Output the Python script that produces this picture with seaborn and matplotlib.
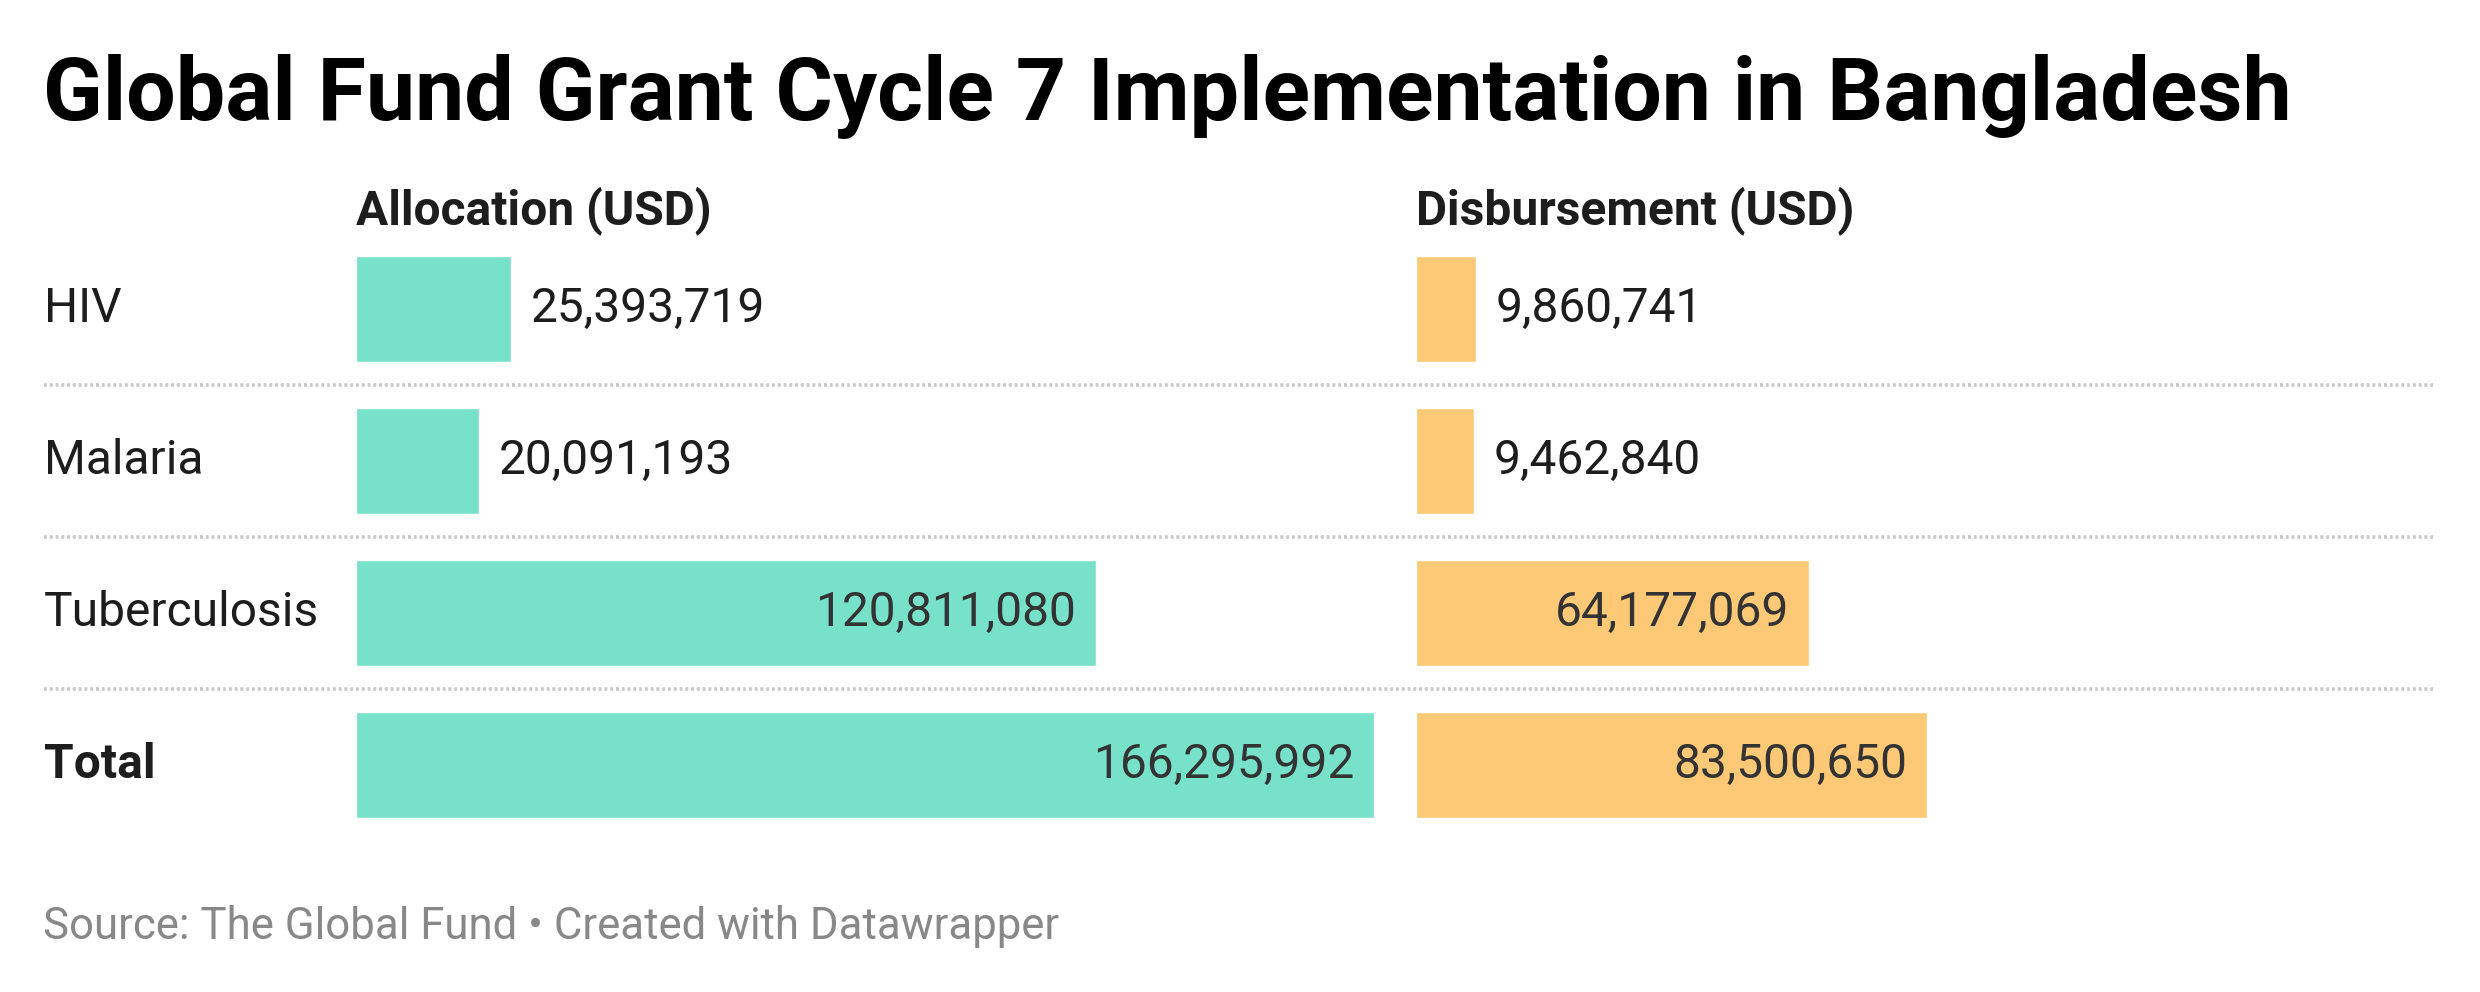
import matplotlib
matplotlib.use("Agg")
import matplotlib.pyplot as plt
import matplotlib.transforms as mtransforms
from matplotlib.lines import Line2D
import seaborn as sns
import pandas as pd

# ---- data ----
categories = ["HIV", "Malaria", "Tuberculosis", "Total"]
allocation = [25393719, 20091193, 120811080, 166295992]
disbursement = [9860741, 9462840, 64177069, 83500650]
panel_titles = ["Allocation (USD)", "Disbursement (USD)"]
title = "Global Fund Grant Cycle 7 Implementation in Bangladesh"
source = "Source: The Global Fund \u2022 Created with Datawrapper"

TEAL = "#77E1CA"
ORANGE = "#FEC976"

sns.set_theme(style="white")
plt.rcParams["font.family"] = ["Roboto", "DejaVu Sans"]

W, H = 2480, 992
fig = plt.figure(figsize=(W / 100, H / 100), dpi=100)
fig.patch.set_facecolor("white")

def fx(px):
    return px / W

def fy(py):
    return 1 - py / H

FS = 34.5
ax_top, ax_bot = 233, 841
panels = [(356, 1374), (1416, 2434)]
series = [allocation, disbursement]
colors = [TEAL, ORANGE]
xmax = max(max(allocation), max(disbursement))

df = pd.DataFrame({"category": categories, "Allocation": allocation, "Disbursement": disbursement})

axes = []
for (x0, x1), vals, col, name in zip(panels, series, colors, ["Allocation", "Disbursement"]):
    ax = fig.add_axes([fx(x0), fy(ax_bot), fx(x1) - fx(x0), fy(ax_top) - fy(ax_bot)])
    sns.barplot(data=df, x=name, y="category", ax=ax, color=col, saturation=1,
                width=0.697, orient="h", errorbar=None)
    ax.set_xlim(0, xmax)
    ax.set_ylim(3.5, -0.5)
    ax.set_axis_off()
    for i, v in enumerate(vals):
        lab = f"{v:,}"
        if v / xmax > 0.25:
            ax.annotate(lab, xy=(v, i), xytext=(-14, 0), textcoords="offset points",
                        ha="right", va="center", fontsize=FS, color="#333333")
        else:
            ax.annotate(lab, xy=(v, i), xytext=(14, 0), textcoords="offset points",
                        ha="left", va="center", fontsize=FS, color="#1d1d1d")
    axes.append(ax)

ax0 = axes[0]
blend = mtransforms.blended_transform_factory(fig.transFigure, ax0.transData)

# separators
for yv in [0.5, 1.5, 2.5]:
    fig.add_artist(Line2D([fx(44), fx(2436)], [yv, yv], transform=blend,
                          color="#c8c8c8", linewidth=2.6, linestyle=(0, (0.8, 0.8))))

# row labels
for i, c in enumerate(categories):
    fig.text(fx(44), i, c, transform=blend, ha="left", va="center", fontsize=FS,
             color="#1d1d1d", fontweight="bold" if c == "Total" else "normal")

# panel headers
for (x0, x1), t in zip(panels, panel_titles):
    fig.text(fx(x0), fy(224), t, ha="left", va="baseline", fontsize=FS,
             fontweight="bold", color="#1d1d1d")

fig.text(fx(43), fy(120), title, ha="left", va="baseline", fontsize=63.3,
         fontweight="bold", color="#000000")
fig.text(fx(43), fy(939), source, ha="left", va="baseline", fontsize=31.5,
         color="#888888")

fig.savefig("out.png", dpi=100, facecolor="white")
